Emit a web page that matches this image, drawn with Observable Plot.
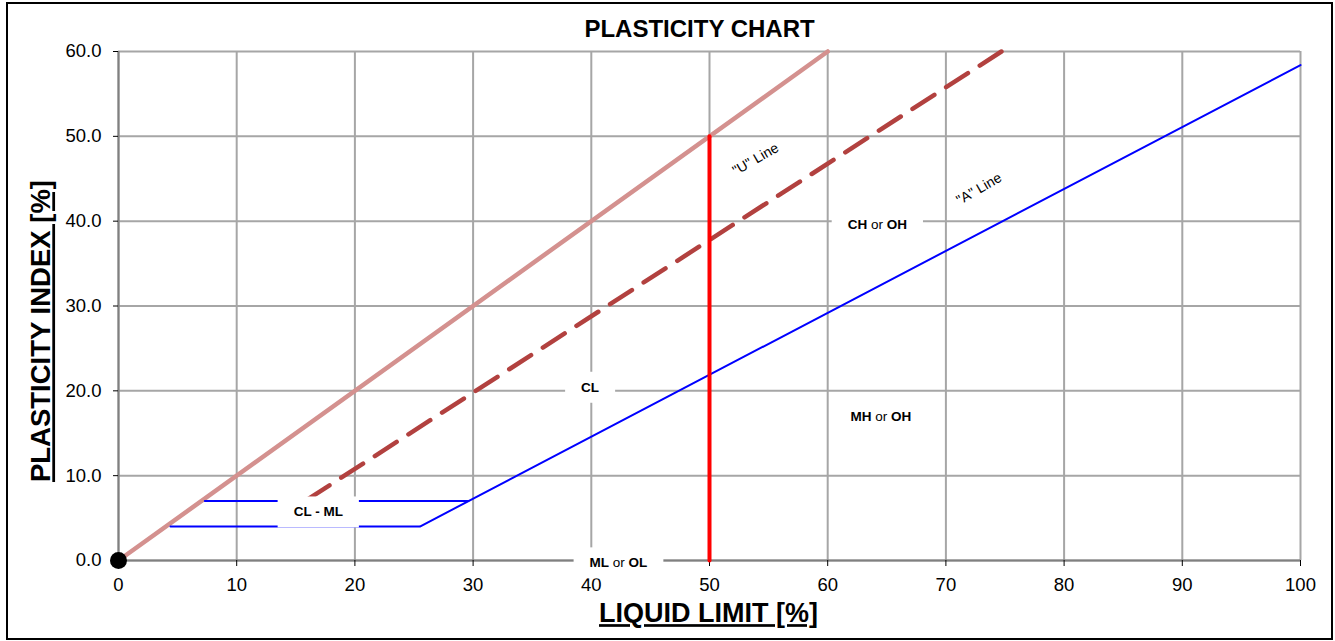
<!DOCTYPE html>
<html>
<head>
<meta charset="utf-8">
<script src="https://cdn.jsdelivr.net/npm/d3@7"></script>
<script src="https://cdn.jsdelivr.net/npm/@observablehq/plot@0.6"></script>
<style>
  body { margin: 0; background: #fff; }
  #wrap { position: relative; width: 1335px; height: 641px; overflow: hidden; background: #fff; }
  #chart { position: absolute; left: 0; top: 0; }
  #border { position: absolute; left: 6px; top: 2px; width: 1327px; height: 638px; border: 2px solid #000; box-sizing: border-box; pointer-events: none; }
</style>
</head>
<body>
<div id="wrap"><div id="chart"></div><div id="border"></div></div>
<script>
// ---- data ----
const xTicks = [0, 10, 20, 30, 40, 50, 60, 70, 80, 90, 100];
const yTicks = [0, 10, 20, 30, 40, 50, 60];

// upper limit line (PI = LL)
const upperLL = [0, 60];
const upperPI = [0, 60];

// "U" line (dashed)
const uLineLL = [16, 74.7];
const uLinePI = [7.2, 60];

// "A" line with lower CL-ML boundary
const aLineLL = [4.4, 25.5, 100];
const aLinePI = [4, 4, 58.4];

// upper CL-ML boundary
const clmlLL = [7.3, 29.6];
const clmlPI = [7, 7];

// LL = 50 divider
const dividerLL = [50, 50];
const dividerPI = [0, 50];

// zone labels
const zoneNames = ["CL", "CH or OH", "MH or OH", "CL - ML", "ML or OL"];
const zoneLL = [39.9, 64.2, 64.5, 16.9, 42.3];
const zonePI = [20.4, 39.6, 16.9, 5.7, -0.3];

// line labels
const lineNames = ['"U" Line', '"A" Line'];
const lineLL = [53.9, 72.8];
const linePI = [47.3, 43.8];

// origin marker
const originLL = [0];
const originPI = [0];

const titleText = "PLASTICITY CHART";
const xLabel = "LIQUID LIMIT [%]";
const yLabel = "PLASTICITY INDEX [%]";

const pts = (xs, ys) => xs.map((x, i) => ({x, y: ys[i]}));

const font = "'Liberation Sans', Arial, Helvetica, sans-serif";

const chart = Plot.plot({
  width: 1335,
  height: 641,
  marginLeft: 118,
  marginRight: 35,
  marginTop: 51,
  marginBottom: 81,
  style: {fontFamily: font, fontSize: "18.5px", background: "transparent", color: "#000", overflow: "visible"},
  x: {domain: [0, 100]},
  y: {domain: [0, 60]},
  marks: [
    Plot.gridX(xTicks, {stroke: "#a6a6a6", strokeOpacity: 1, strokeWidth: 2}),
    Plot.gridY(yTicks, {stroke: "#a6a6a6", strokeOpacity: 1, strokeWidth: 2}),
    Plot.ruleX([0], {stroke: "#808080", strokeWidth: 2}),
    Plot.ruleY([0], {stroke: "#808080", strokeWidth: 2}),
    Plot.axisX({ticks: xTicks, tickSize: 6, tickPadding: 11, fontSize: 18.5, label: null, tickFormat: d3.format("d")}),
    Plot.axisY({ticks: yTicks, tickSize: 5, tickPadding: 12, fontSize: 18.5, label: null, tickFormat: d3.format(".1f")}),
    Plot.line(pts(upperLL, upperPI), {x: "x", y: "y", stroke: "#d4918f", strokeWidth: 4.5}),
    Plot.line(pts(uLineLL, uLinePI), {x: "x", y: "y", stroke: "#b2413f", strokeWidth: 4.5, strokeDasharray: "26,14"}),
    Plot.line(pts(aLineLL, aLinePI), {x: "x", y: "y", stroke: "#0000ff", strokeWidth: 2}),
    Plot.line(pts(clmlLL, clmlPI), {x: "x", y: "y", stroke: "#0000ff", strokeWidth: 2}),
    Plot.line(pts(dividerLL, dividerPI), {x: "x", y: "y", stroke: "#ff0000", strokeWidth: 4}),
    Plot.text(zoneNames.map((n, i) => ({n, x: zoneLL[i], y: zonePI[i]})),
      {x: "x", y: "y", text: "n", fontSize: 13.5, fontWeight: "bold", fill: "#000"}),
    Plot.text(lineNames.map((n, i) => ({n, x: lineLL[i], y: linePI[i]})),
      {x: "x", y: "y", text: "n", fontSize: 14, rotate: -30, fill: "#000"}),
    Plot.dot(pts(originLL, originPI), {x: "x", y: "y", r: 8.5, fill: "#000", stroke: "none"}),
    Plot.text([titleText], {frameAnchor: "top", textAnchor: "middle", lineAnchor: "middle", dx: -10, dy: -22, fontSize: 24, fontWeight: "bold", fill: "#000"}),
    Plot.text([xLabel], {frameAnchor: "bottom", textAnchor: "middle", lineAnchor: "middle", dx: -1, dy: 53, fontSize: 27, fontWeight: "bold", fill: "#000"}),
    Plot.text([yLabel], {frameAnchor: "left", textAnchor: "middle", lineAnchor: "middle", dx: -77, dy: 25, rotate: -90, fontSize: 27.5, fontWeight: "bold", fill: "#000"})
  ]
});

document.getElementById("chart").append(chart);

const svg = d3.select(chart.tagName.toLowerCase() === "svg" ? chart : chart.querySelector("svg"));

svg.selectAll("text").each(function () {
  const t = this.textContent;
  if (t === xLabel || t === yLabel) d3.select(this).attr("text-decoration", "underline");
});

svg.selectAll("text").each(function () {
  const el = this;
  const t = el.textContent;
  if (!zoneNames.includes(t)) return;
  const parts = t.split(" or ");
  if (parts.length === 2) {
    const s = d3.select(el);
    s.text(null);
    s.append("tspan").attr("font-weight", "bold").text(parts[0]);
    s.append("tspan").attr("font-weight", "normal").text(" or ");
    s.append("tspan").attr("font-weight", "bold").text(parts[1]);
  }
  const b = el.getBBox();
  const padX = 16, padY = 8;
  const r = d3.select(el.parentNode).insert("rect", () => el)
    .attr("x", b.x - padX).attr("y", b.y - padY)
    .attr("width", b.width + 2 * padX).attr("height", b.height + 2 * padY)
    .attr("fill", "#fff");
  const tr = el.getAttribute("transform");
  if (tr) r.attr("transform", tr);
});
</script>
</body>
</html>
